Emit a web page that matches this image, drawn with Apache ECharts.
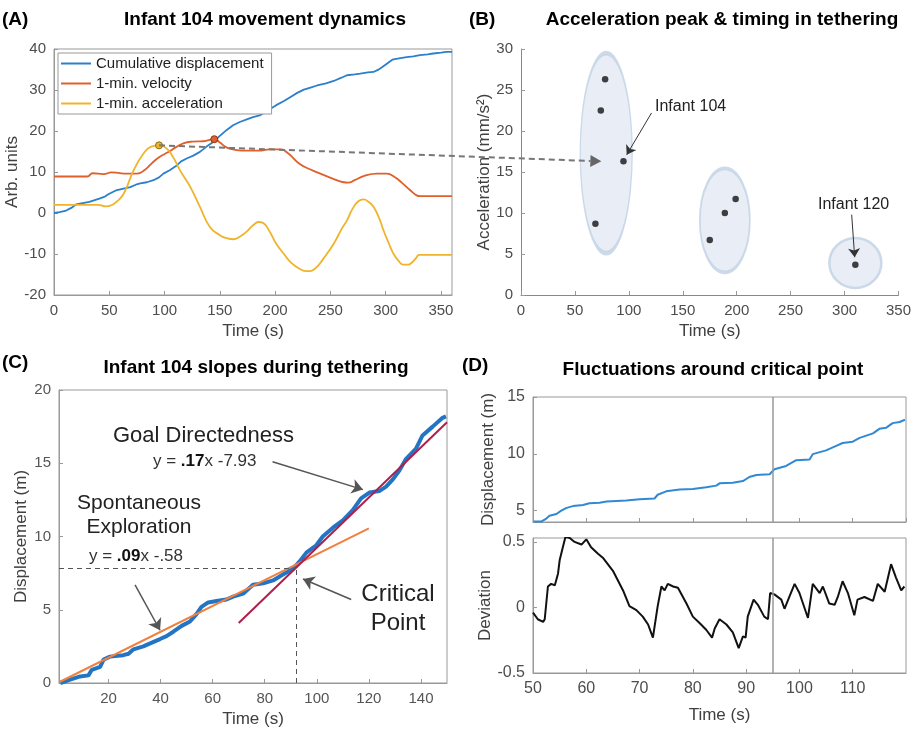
<!DOCTYPE html>
<html>
<head>
<meta charset="utf-8">
<script src="https://cdn.jsdelivr.net/npm/echarts@6/dist/echarts.min.js"></script>
<style>
  html, body { margin: 0; padding: 0; background: #fff; }
  #main { width: 914px; height: 729px; }
</style>
</head>
<body>
<div id="main"></div>
<script>
// (A) movement dynamics: [time, value]
const cumDisp = [[0,0],[5,0.2],[11,0.6],[16,1.3],[20,2.1],[26,2.4],[32,2.7],[41,3.5],[46,4],[50,4.7],[56,5.5],[62,5.9],[69,6.3],[74,6.9],[78,7.2],[84,7.5],[90,8],[95,8.7],[99,9.6],[105,10.5],[111,11.6],[115,12.6],[120,13.3],[126,14],[132,14.9],[138,16.2],[144,17.3],[150,18.8],[156,20.2],[162,21.4],[168,22.2],[175,22.9],[180,23.4],[186,23.8],[194,25.1],[201,26.3],[208,27.3],[214,28.3],[220,29.3],[226,30.1],[232,30.6],[238,31.1],[246,31.6],[253,32.2],[260,33],[265,33.6],[272,33.8],[277,34],[284,34.3],[289,34.4],[293,34.9],[297,35.6],[302,36.6],[306,37.4],[312,37.7],[319,38],[325,38.2],[331,38.5],[338,38.7],[343,38.9],[350,39.1],[355,39.3],[360,39.3]];
const velocity = [[0,8.9],[30,8.9],[35,9.7],[45,9.5],[52,9.9],[58,9.8],[65,9.6],[75,9.6],[82,10.5],[88,12],[95,13.6],[103,14.8],[110,16],[117,17],[125,17.4],[135,17.5],[145,18],[150,17.2],[156,16],[162,15.5],[170,15.2],[185,15.2],[195,15.5],[205,15.5],[212,14.5],[222,12],[232,10.6],[241,9.6],[252,8.4],[262,7.5],[266,7.4],[272,8],[280,9],[292,9.6],[301,9.6],[308,8.8],[315,7.3],[322,5.6],[328,4.3],[331,4.1],[360,4.1]];
const acceleration = [[0,2],[40,2],[47,1.6],[52,1.9],[56,2.6],[63,4.7],[72,10.4],[81,14.5],[88,16.2],[95,16.5],[102,15.7],[108,13.5],[114,10.4],[123,6.5],[132,1.5],[141,-3.4],[150,-5.4],[157,-6.2],[162,-6.4],[168,-5.8],[174,-4.6],[180,-3],[185,-2.2],[189,-2.4],[195,-4.5],[201,-7.5],[208,-10],[214,-12],[222,-13.6],[229,-14.2],[236,-13.6],[244,-11],[253,-7.5],[260,-4],[265,-1.8],[270,1],[275,2.8],[280,3.3],[285,2.6],[289,1.5],[294,-1.2],[298,-4.2],[303,-7.5],[307,-9.9],[312,-11.8],[316,-12.6],[320,-12.6],[324,-12],[328,-10.8],[330,-10.2],[360,-10.2]];
const accelPeak = [95, 16.5];
const velocityPeak = [145, 18];

// (B) acceleration peak vs timing
const peakTime = [78, 74, 95, 69, 175, 189, 199, 310];
const peakAccel = [26.3, 22.5, 16.3, 8.7, 6.7, 10.0, 11.7, 3.7];
const groupTime = [79, 189, 310];
const groupAccel = [17.3, 9.1, 3.9];

// (C) slopes
const slopeDisp = [[1.5,0],[5.3,0.23],[9.1,0.45],[12.3,0.52],[13.6,0.9],[16.8,1.1],[18.1,1.6],[20.6,1.8],[25.7,1.9],[27.7,2],[29.6,2.3],[33.4,2.5],[36,2.7],[39.8,3],[42.3,3.2],[44.9,3.5],[48.1,3.9],[51.3,4.2],[53.8,4.7],[55.7,5.2],[58.3,5.5],[61.5,5.6],[65.3,5.7],[67.9,5.9],[71.7,6.1],[75.5,6.7],[79.4,6.8],[83.2,7],[87,7.4],[90.9,7.8],[93.4,8.3],[96,8.9],[99.8,9.4],[102.3,10],[106.2,10.6],[110,11.1],[113.8,11.8],[117,12.6],[120.2,13],[124,13.1],[126.6,13.4],[129.2,13.9],[131.7,14.5],[134.3,15.3],[138.1,16],[140.6,16.9],[144.5,17.5],[148.3,18.1],[149.6,18.2]];
const exploreFit = [[1,0.05],[120,10.55]];
const goalFit = [[70,4.1],[150,17.8]];
const critPoint = [92, 7.84];

// (D) fluctuations
const dispD = [[50.1,4.05],[51.6,4.05],[52.5,4.3],[53.1,4.55],[54.4,4.7],[55.3,5],[56.3,5.24],[57.5,5.4],[59.4,5.5],[60.6,5.65],[62.5,5.7],[63.8,5.8],[67.5,5.9],[70,6],[72.8,6.07],[73.4,6.4],[75,6.7],[77.5,6.85],[80,6.9],[82.5,7.05],[84.4,7.2],[85,7.4],[87.5,7.45],[89.4,7.6],[90.6,7.96],[91.9,8.14],[94.4,8.2],[95.3,8.64],[97.5,8.93],[99.4,9.44],[101.9,9.5],[102.5,9.97],[105,10.3],[106.9,10.7],[108.1,10.95],[110,11.07],[111.3,11.4],[113.8,11.8],[115,12.2],[116.3,12.3],[117.5,12.7],[118.8,12.8],[119.8,13]];
const deviation = [[50,-0.04],[50.9,-0.09],[51.9,-0.11],[52.2,-0.09],[52.8,0.16],[53.4,0.18],[54.1,0.17],[54.7,0.26],[55,0.36],[55.6,0.46],[56.1,0.54],[56.9,0.53],[57.8,0.5],[59.1,0.48],[60,0.52],[60.9,0.46],[62.2,0.41],[63.1,0.38],[65,0.28],[66.9,0.13],[68.1,0.01],[69.4,-0.02],[70.6,-0.07],[71.6,-0.13],[72.5,-0.23],[72.8,-0.24],[73.4,0.01],[74.1,0.16],[74.7,0.13],[75.3,0.18],[76.3,0.16],[77.2,0.15],[78.8,0.03],[80,-0.07],[81.3,-0.12],[82.5,-0.17],[83.6,-0.23],[84.1,-0.16],[85,-0.09],[86.3,-0.13],[87.5,-0.19],[88.6,-0.31],[89.4,-0.22],[89.9,-0.23],[90.3,-0.07],[91.4,0.06],[92.2,0.02],[93.4,-0.07],[94.1,-0.09],[94.5,0.11],[95.3,0.1],[96.6,0.06],[97.2,-0.01],[98.1,0.08],[99.1,0.18],[100,0.11],[101.6,-0.08],[102.5,0.18],[103.8,0.11],[104.4,0.16],[105.6,0.03],[106.6,0.02],[107.2,0.08],[108.1,0.2],[109.1,0.11],[110.3,-0.06],[110.9,0.06],[112.2,0.08],[113.8,0.05],[114.7,0.18],[116,0.12],[117.2,0.33],[118.1,0.23],[119.1,0.13],[119.7,0.16]];
const criticalTime = 95;

const FONT = 'Liberation Sans';
const chart = echarts.init(document.getElementById('main'));

// ellipse outline used as scatter symbol
const ellipsePath = 'path://M0,50A50,50,0,1,1,100,50A50,50,0,1,1,0,50Z';
const ellipseSizes = [[52, 200], [50, 104], [52, 50]];

function axisBase(extra) {
  return Object.assign({
    type: 'value',
    axisLine: { show: true, onZero: false, lineStyle: { color: '#999' } },
    axisTick: { show: true, inside: true, length: 4, lineStyle: { color: '#999' } },
    axisLabel: { fontSize: 15, color: '#4d4d4d', fontFamily: FONT },
    splitLine: { show: false },
    nameLocation: 'middle',
    nameTextStyle: { fontSize: 17, color: '#404040', fontFamily: FONT }
  }, extra);
}

const arrowLine = { color: '#555', width: 1.5, type: 'solid' };

chart.setOption({
  animation: false,
  backgroundColor: '#fff',
  textStyle: { fontFamily: FONT },
  legend: {
    data: ['Cumulative displacement', '1-min. velocity', '1-min. acceleration'],
    orient: 'vertical', left: 58, top: 53,
    icon: 'rect', itemWidth: 30, itemHeight: 2, itemGap: 3,
    backgroundColor: '#fff', borderColor: '#999', borderWidth: 1,
    padding: [2, 8, 2, 3],
    textStyle: { fontSize: 15, lineHeight: 17, color: '#222', fontFamily: FONT }
  },
  grid: [
    { left: 54, top: 49, width: 398, height: 246, show: true, borderColor: '#999', borderWidth: 1 },
    { left: 521, top: 49, width: 379, height: 246 },
    { left: 59, top: 390, width: 388, height: 293, show: true, borderColor: '#999', borderWidth: 1 },
    { left: 533, top: 397, width: 373, height: 125, show: true, borderColor: '#999', borderWidth: 1 },
    { left: 533, top: 538, width: 373, height: 135, show: true, borderColor: '#999', borderWidth: 1 }
  ],
  xAxis: [
    axisBase({ gridIndex: 0, min: 0, max: 360, interval: 50, name: 'Time (s)', nameGap: 28,
      axisLabel: { fontSize: 15, color: '#4d4d4d', showMaxLabel: false } }),
    axisBase({ gridIndex: 1, min: 0, max: 350, interval: 50, name: 'Time (s)', nameGap: 28,
      axisLine: { show: true, onZero: false, lineStyle: { color: '#888' } } }),
    axisBase({ gridIndex: 2, min: 1, max: 150, name: 'Time (s)', nameGap: 28,
      axisTick: { show: true, inside: true, length: 4, lineStyle: { color: '#999' }, customValues: [20, 40, 60, 80, 100, 120, 140] },
      axisLabel: { fontSize: 15, color: '#555', customValues: [20, 40, 60, 80, 100, 120, 140] } }),
    axisBase({ gridIndex: 3, min: 50, max: 120, interval: 10, axisLabel: { show: false } }),
    axisBase({ gridIndex: 4, min: 50, max: 120, interval: 10, name: 'Time (s)', nameGap: 34,
      axisLabel: { fontSize: 16, color: '#4d4d4d', showMaxLabel: false } })
  ],
  yAxis: [
    axisBase({ gridIndex: 0, min: -20, max: 40, interval: 10, name: 'Arb. units', nameGap: 28 }),
    axisBase({ gridIndex: 1, min: 0, max: 30, interval: 5, name: 'Acceleration (mm/s²)', nameGap: 28,
      axisLine: { show: true, onZero: false, lineStyle: { color: '#888' } } }),
    axisBase({ gridIndex: 2, min: 0, max: 20, interval: 5, name: 'Displacement (m)', nameGap: 29,
      axisLabel: { fontSize: 15, color: '#555' } }),
    axisBase({ gridIndex: 3, min: 4, max: 15, name: 'Displacement (m)', nameGap: 36,
      axisTick: { show: true, inside: true, length: 4, lineStyle: { color: '#999' }, customValues: [5, 10, 15] },
      axisLabel: { fontSize: 16, color: '#4d4d4d', customValues: [5, 10, 15] } }),
    axisBase({ gridIndex: 4, min: -0.5, max: 0.53, name: 'Deviation', nameGap: 36,
      axisTick: { show: true, inside: true, length: 4, lineStyle: { color: '#999' }, customValues: [-0.5, 0, 0.5] },
      axisLabel: { fontSize: 16, color: '#4d4d4d', customValues: [-0.5, 0, 0.5] } })
  ],
  series: [
    { name: 'Cumulative displacement', type: 'line', xAxisIndex: 0, yAxisIndex: 0, symbol: 'none',
      data: cumDisp, lineStyle: { color: '#2b7fcb', width: 1.8 }, itemStyle: { color: '#2b7fcb' } },
    { name: '1-min. velocity', type: 'line', xAxisIndex: 0, yAxisIndex: 0, symbol: 'none',
      smooth: 0.5,
      data: velocity, lineStyle: { color: '#e0602c', width: 1.8 }, itemStyle: { color: '#e0602c' },
      markPoint: { symbol: 'circle', symbolSize: 7, silent: true, label: { show: false },
        itemStyle: { color: '#e0602c', borderColor: '#8a3a18', borderWidth: 1 },
        data: [{ coord: velocityPeak }] } },
    { name: '1-min. acceleration', type: 'line', xAxisIndex: 0, yAxisIndex: 0, symbol: 'none',
      smooth: 0.5,
      data: acceleration, lineStyle: { color: '#f0b32c', width: 1.8 }, itemStyle: { color: '#f0b32c' },
      markPoint: { symbol: 'circle', symbolSize: 7, silent: true, label: { show: false },
        itemStyle: { color: '#f0b32c', borderColor: '#8a6a10', borderWidth: 1 },
        data: [{ coord: accelPeak }] } },
    { type: 'scatter', xAxisIndex: 1, yAxisIndex: 1, silent: true,
      symbol: ellipsePath,
      symbolSize: (v, p) => ellipseSizes[p.dataIndex],
      itemStyle: { color: '#e3eaf4', borderColor: '#c0d1e4', borderWidth: 2.5 },
      data: groupTime.map((t, i) => [t, groupAccel[i]]) },
    { type: 'scatter', xAxisIndex: 1, yAxisIndex: 1, symbolSize: 6.5, silent: true,
      itemStyle: { color: '#111' },
      data: peakTime.map((t, i) => [t, peakAccel[i]]),
      markLine: { silent: true, symbol: ['none', 'arrow'], symbolSize: 9, label: { show: false },
        lineStyle: { color: '#333', width: 1, type: 'solid' },
        data: [
          [{ coord: [121, 22.2] }, { coord: [98, 17.1] }],
          [{ coord: [306.6, 9.8] }, { coord: [309.4, 4.6] }]
        ] } },
    { type: 'line', xAxisIndex: 2, yAxisIndex: 2, symbol: 'none', data: slopeDisp,
      lineStyle: { color: '#2474c4', width: 4 },
      markLine: { silent: true, symbol: 'none', label: { show: false },
        lineStyle: { color: '#555', width: 1, type: [5, 4] },
        data: [
          [{ coord: [1, critPoint[1]] }, { coord: critPoint }],
          [{ coord: [critPoint[0], 0] }, { coord: critPoint }]
        ] } },
    { type: 'line', xAxisIndex: 2, yAxisIndex: 2, symbol: 'none', data: exploreFit,
      lineStyle: { color: '#f0803e', width: 2 },
      markLine: { silent: true, symbol: ['none', 'arrow'], symbolSize: 11, label: { show: false },
        lineStyle: arrowLine,
        data: [
          [{ coord: [83, 15.1] }, { coord: [117.7, 13.2] }],
          [{ coord: [30.2, 6.7] }, { coord: [39.8, 3.6] }],
          [{ coord: [113.2, 5.7] }, { coord: [94.7, 7.1] }]
        ] } },
    { type: 'line', xAxisIndex: 2, yAxisIndex: 2, symbol: 'none', data: goalFit,
      lineStyle: { color: '#b01f4c', width: 2 } },
    { type: 'line', xAxisIndex: 3, yAxisIndex: 3, symbol: 'none', data: dispD,
      lineStyle: { color: '#3189d4', width: 2 },
      markLine: { silent: true, symbol: 'none', label: { show: false },
        lineStyle: { color: '#999', width: 1.5, type: 'solid' }, data: [{ xAxis: criticalTime }] } },
    { type: 'line', xAxisIndex: 4, yAxisIndex: 4, symbol: 'none', data: deviation,
      lineStyle: { color: '#111', width: 2 },
      markLine: { silent: true, symbol: 'none', label: { show: false },
        lineStyle: { color: '#999', width: 1.5, type: 'solid' }, data: [{ xAxis: criticalTime }] } }
  ]
});

// texts and the dashed arrow linking (A) to (B)
const p1 = chart.convertToPixel({ gridIndex: 0 }, accelPeak);
const tip = chart.convertToPixel({ gridIndex: 1 }, [74.5, 16.3]);
const ang = Math.atan2(tip[1] - p1[1], tip[0] - p1[0]);
const hl = 11, hw = 6;
const base = [tip[0] - hl * Math.cos(ang), tip[1] - hl * Math.sin(ang)];
const nx = -Math.sin(ang), ny = Math.cos(ang);

function txt(x, y, text, size, bold, align, color) {
  return { type: 'text', x: x, y: y, z: 50,
    style: { text: text, fontSize: size, fontWeight: bold ? 'bold' : 'normal', fontFamily: FONT,
      fill: color || '#000', align: align || 'left', verticalAlign: 'middle' } };
}
function eq(x, y, a, b, c) {
  return { type: 'text', x: x, y: y, z: 50,
    style: { text: a + '{b|' + b + '}' + c, fontSize: 17, fontFamily: FONT, fill: '#333', verticalAlign: 'middle',
      rich: { b: { fontSize: 17, fontWeight: 'bold', fontFamily: FONT, fill: '#111' } } } };
}

chart.setOption({
  graphic: [
    { type: 'line', z: 40, shape: { x1: p1[0], y1: p1[1], x2: base[0], y2: base[1] },
      style: { stroke: '#777', lineWidth: 2, lineDash: [6, 4] } },
    { type: 'polygon', z: 40, shape: { points: [tip, [base[0] + nx * hw, base[1] + ny * hw], [base[0] - nx * hw, base[1] - ny * hw]] },
      style: { fill: '#666' } },
    txt(2, 20, '(A)', 19, true),
    txt(265, 20, 'Infant 104 movement dynamics', 19, true, 'center'),
    txt(469, 20, '(B)', 19, true),
    txt(722, 20, 'Acceleration peak & timing in tethering', 19, true, 'center'),
    txt(2, 363, '(C)', 19, true),
    txt(256, 368, 'Infant 104 slopes during tethering', 19, true, 'center'),
    txt(462, 366, '(D)', 19, true),
    txt(713, 370, 'Fluctuations around critical point', 19, true, 'center'),
    txt(655, 107, 'Infant 104', 16, false, 'left', '#222'),
    txt(818, 205, 'Infant 120', 16, false, 'left', '#222'),
    txt(113, 436, 'Goal Directedness', 22, false, 'left', '#222'),
    eq(153, 461, 'y = ', '.17', 'x -7.93'),
    txt(139, 503, 'Spontaneous', 21, false, 'center', '#222'),
    txt(139, 527, 'Exploration', 21, false, 'center', '#222'),
    eq(89, 556, 'y = ', '.09', 'x -.58'),
    txt(398, 594, 'Critical', 24, false, 'center', '#222'),
    txt(398, 623, 'Point', 24, false, 'center', '#222')
  ]
});
</script>
</body>
</html>
